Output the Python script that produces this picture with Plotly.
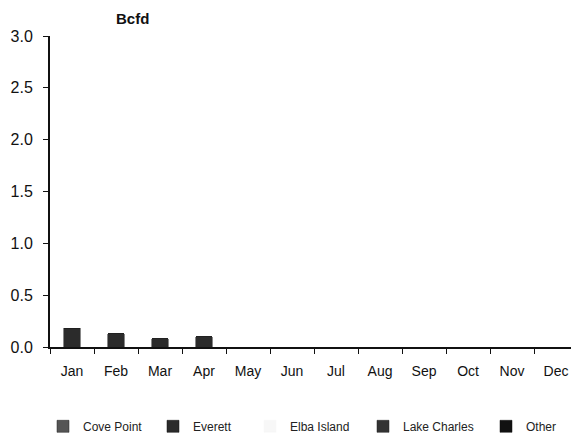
import plotly.graph_objects as go

# Monthly LNG send-out by terminal, Bcfd
months = ["Jan", "Feb", "Mar", "Apr", "May", "Jun",
          "Jul", "Aug", "Sep", "Oct", "Nov", "Dec"]
cove_point = [0, 0, 0, 0, 0, 0, 0, 0, 0, 0, 0, 0]
everett = [0.18, 0.13, 0.08, 0.10, 0, 0, 0, 0, 0, 0, 0, 0]
elba_island = [0, 0, 0, 0, 0, 0, 0, 0, 0, 0, 0, 0]
lake_charles = [0, 0, 0, 0, 0, 0, 0, 0, 0, 0, 0, 0]
other = [0, 0, 0, 0, 0, 0, 0, 0, 0, 0, 0, 0]

y_ticks = [0.0, 0.5, 1.0, 1.5, 2.0, 2.5, 3.0]

FONT = "Liberation Sans, Arial, sans-serif"

# name, values, fill, outline, legend id
series = [
    ("Cove Point", cove_point, "#555555", "#222222", "legend"),
    ("Everett", everett, "#2b2b2b", "#111111", "legend2"),
    ("Elba Island", elba_island, "#f7f7f7", "#f7f7f7", "legend3"),
    ("Lake Charles", lake_charles, "#333333", "#222222", "legend4"),
    ("Other", other, "#111111", "#111111", "legend5"),
]

fig = go.Figure()
for name, vals, color, edge, lg in series:
    fig.add_trace(go.Bar(
        x=months, y=vals, name=name, width=0.37,
        marker=dict(color=color, line=dict(color=edge, width=0.5)),
        legend=lg,
    ))

# one legend box per entry so each sits at its own spot along the bottom
plot_left, plot_w = 50, 521
text_starts = [81, 191, 288, 401, 524]
legend_cfg = {}
for i, (name, _, _, _, lg) in enumerate(series):
    legend_cfg[lg] = dict(
        x=(text_starts[i] - 38 - plot_left) / plot_w, xanchor="left",
        y=-0.255, yanchor="middle",
        orientation="h", bgcolor="rgba(0,0,0,0)",
        font=dict(family=FONT, size=12, color="#222222"),
        itemwidth=30,
    )

fig.update_layout(
    width=571, height=433,
    margin=dict(l=50, r=0, t=36, b=86, autoexpand=False),
    paper_bgcolor="white", plot_bgcolor="white",
    barmode="stack",
    showlegend=True,
    title=dict(text="<b>Bcfd</b>", x=116 / 571, xanchor="left", xref="container",
               y=1 - 19 / 433, yanchor="middle", yref="container",
               font=dict(family=FONT, size=15, color="#111111")),
    font=dict(family=FONT, size=14, color="#111111"),
    **legend_cfg,
)

fig.update_xaxes(
    range=[-0.5, 11.34],
    showline=True, linecolor="#111111", linewidth=1.5,
    ticks="outside", ticklen=5, tickcolor="#111111", tickwidth=1,
    tickson="boundaries", ticklabelstandoff=10,
    showgrid=False, zeroline=False,
    tickfont=dict(family=FONT, size=14, color="#111111"),
)
fig.update_yaxes(
    range=[0, 3.0], tickvals=y_ticks, tickformat=".1f",
    showline=True, linecolor="#111111", linewidth=2,
    ticks="outside", ticklen=5, tickcolor="#111111", tickwidth=1,
    ticklabelstandoff=7,
    showgrid=False, zeroline=False,
    tickfont=dict(family=FONT, size=16, color="#111111"),
)

fig.write_html("out.html")
